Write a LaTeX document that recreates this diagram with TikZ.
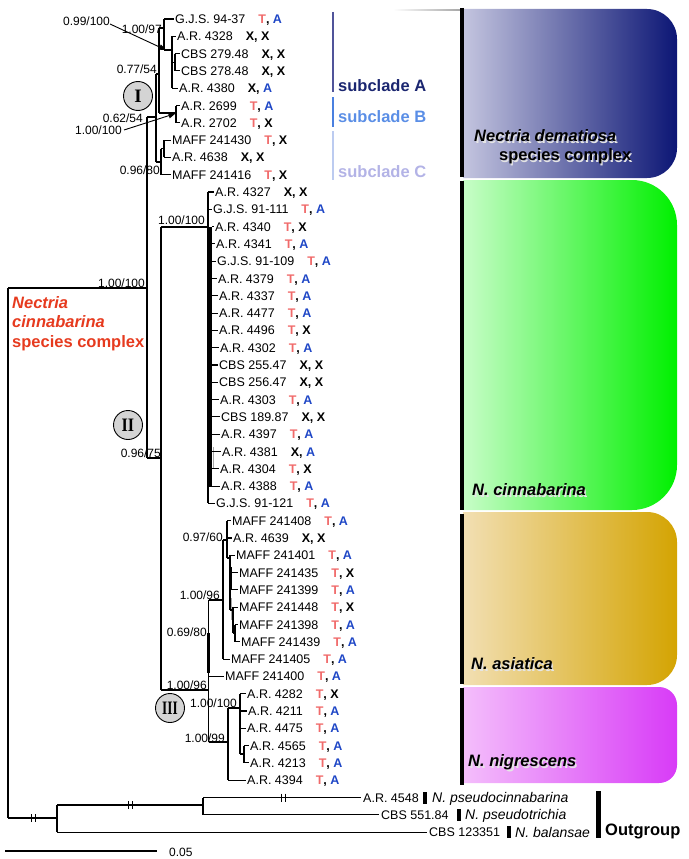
\documentclass[tikz,border=0pt]{standalone}
\usepackage{fontspec}
\setmainfont{Liberation Sans}
\newfontfamily\numfont{Liberation Serif}
\usepackage{graphicx}
\usetikzlibrary{arrows.meta}
\definecolor{tred}{HTML}{F06A6A}
\definecolor{ablue}{HTML}{1F47C6}
\definecolor{ncred}{HTML}{E63A1E}
\definecolor{subA}{HTML}{1B2670}
\definecolor{subAbar}{HTML}{50549A}
\definecolor{subB}{HTML}{5A8EE6}
\definecolor{subBbar}{HTML}{4A80E0}
\definecolor{subC}{HTML}{B3B3E6}
\definecolor{subCbar}{HTML}{BCCBF0}
\definecolor{demL}{HTML}{C4C5DF}
\definecolor{demR}{HTML}{0C1675}
\definecolor{cinL}{HTML}{C8FDC8}
\definecolor{cinR}{HTML}{00F000}
\definecolor{asiL}{HTML}{F2DFB3}
\definecolor{asiR}{HTML}{D4A402}
\definecolor{nigL}{HTML}{F4BEFB}
\definecolor{nigR}{HTML}{D83BF7}
\definecolor{circ}{HTML}{D4D4D4}
\newcommand{\annTA}{\textbf{\textcolor{tred}{T}, \textcolor{ablue}{A}}}
\newcommand{\annTX}{\textbf{\textcolor{tred}{T}, X}}
\newcommand{\annXX}{\textbf{X, X}}
\newcommand{\annXA}{\textbf{X, \textcolor{ablue}{A}}}
% name, branch x, label x, y, text, annotation
\newcommand{\taxtip}[6]{\node[taxon] (#1) at (#3,#4) {#5\hspace{13pt}#6};
  \draw[br] (#2,#4) -- ([xshift=-1.5pt]#1.west);}
\newcommand{\suplab}[4]{\node[supp] (#1) at (#2,#3) {#4};}
\newcommand{\shlab}[5]{\node[biglab,text=white!80!gray] at (#2+1.2,#3+1.2) {#5};
  \node[biglab,font=\fontsize{16.5}{19}\selectfont\bfseries#4] (#1) at (#2,#3) {#5};}
\begin{document}
\begin{tikzpicture}[x=1pt,y=-1pt,
  br/.style={line width=1.1pt, black},
  thickbr/.style={line width=2.6pt, black},
  taxon/.style={anchor=west, inner sep=0pt, font=\fontsize{12.5}{14}\selectfont, text height=9pt, text depth=0pt},
  supp/.style={anchor=east, inner sep=0pt, font=\fontsize{12}{14}\selectfont, text height=8.6pt, text depth=0pt},
  biglab/.style={anchor=west, inner sep=0pt, font=\fontsize{16.5}{19}\selectfont\bfseries, text height=11.8pt, text depth=0pt},
  spname/.style={anchor=west, inner sep=0pt, font=\fontsize{14}{16}\selectfont\itshape, text height=10pt, text depth=0pt},
  numcirc/.style={circle, draw=black, line width=0.9pt, fill=circ, minimum size=29pt, inner sep=0pt, font=\numfont\fontsize{19}{20}\selectfont\bfseries},
  brk/.style={line width=1.1pt, black}
]
\useasboundingbox (0,0) rectangle (688,859);

% ---------- coloured clade boxes ----------
\path[left color=demL, right color=demR] (463,9) -- (647,9) arc[start angle=90,end angle=0,radius=30pt] -- (677,148) arc[start angle=0,end angle=-90,radius=30pt] -- (463,178) -- cycle;
\path[left color=cinL, right color=cinR] (463,180) -- (632,180) arc[start angle=90,end angle=0,radius=45pt] -- (677,465) arc[start angle=0,end angle=-90,radius=45pt] -- (463,510) -- cycle;
\path[left color=asiL, right color=asiR] (463,512) -- (647,512) arc[start angle=90,end angle=0,radius=30pt] -- (677,655) arc[start angle=0,end angle=-90,radius=30pt] -- (463,685) -- cycle;
\path[left color=nigL, right color=nigR] (463,687) -- (659,687) arc[start angle=90,end angle=0,radius=18pt] -- (677,765) arc[start angle=0,end angle=-90,radius=18pt] -- (463,783) -- cycle;
\path[left color=white, right color=black!35] (393,9.3) rectangle (461,10.8);

% clade bars
\draw[line width=4pt] (462,8) -- (462,177);
\draw[line width=4pt] (462,181) -- (462,510);
\draw[line width=4pt] (462,514) -- (462,684);
\draw[line width=4pt] (462,688) -- (462,785);

% clade labels
\shlab{ndem}{474}{136}{\itshape}{Nectria dematiosa}
\shlab{ndemsc}{499}{155}{}{species complex}
\shlab{ncin}{472}{490}{\itshape}{N. cinnabarina}
\shlab{nasi}{471}{664}{\itshape}{N. asiatica}
\shlab{nnig}{468}{761}{\itshape}{N. nigrescens}

% subclades
\draw[subAbar, line width=2pt] (333,12) -- (333,92);
\draw[subBbar, line width=2pt] (333,97) -- (333,127);
\draw[subCbar, line width=2pt] (333,131) -- (333,180);
\node[biglab, text=subA] (sA) at (338,86) {subclade A};
\node[biglab, text=subB] (sB) at (338,117) {subclade B};
\node[biglab, text=subC] (sC) at (338,172) {subclade C};

% species complex label
\node[biglab, text=ncred, font=\fontsize{16.5}{19}\selectfont\bfseries\itshape] (nc1) at (12,303) {Nectria};
\node[biglab, text=ncred, font=\fontsize{16.5}{19}\selectfont\bfseries\itshape] (nc2) at (12,322) {cinnabarina};
\node[biglab, text=ncred] (nc3) at (12,342) {species complex};

% ---------- backbone ----------
\draw[br] (8,288) -- (8,818);
\draw[br] (8,288) -- (147,288);
\draw[br] (147,117) -- (147,458);
\draw[br] (147,458) -- (161,458);
\draw[br] (161,227) -- (161,690);

% ---------- clade I ----------
\draw[br] (147,117) -- (156,117);
\draw[br] (156,74) -- (156,162);
\draw[br] (156,74) -- (159,74);
\draw[br] (159,28) -- (159,113);
\draw[br] (159,28) -- (164,28);
\draw[br] (164,19) -- (164,50);
\draw[br] (164,50) -- (172,50);
\draw[br] (172,36.3) -- (172,88.2);
\draw[br] (172,62.3) -- (174.5,62.3);
\draw[line width=2pt] (174.5,53.6) -- (174.5,70.9);
\draw[br] (159,113) -- (176,113);
\draw[br] (176,105.5) -- (176,122.8);
\draw[br] (156,162) -- (161,162);
\draw[br] (161,148.7) -- (161,174.7);
\draw[br] (161,148.7) -- (164,148.7);
\draw[line width=2pt] (164,140.1) -- (164,157.4);

\taxtip{t1}{164}{175}{19.0}{G.J.S. 94-37}{\annTA}
\taxtip{t2}{172}{177}{36.3}{A.R. 4328}{\annXX}
\taxtip{t3}{174.5}{181}{53.6}{CBS 279.48}{\annXX}
\taxtip{t4}{174.5}{181}{70.9}{CBS 278.48}{\annXX}
\taxtip{t5}{172}{179}{88.2}{A.R. 4380}{\annXA}
\taxtip{t6}{176}{181}{105.5}{A.R. 2699}{\annTA}
\taxtip{t7}{176}{181}{122.8}{A.R. 2702}{\annTX}
\taxtip{t8}{164}{172}{140.1}{MAFF 241430}{\annTX}
\taxtip{t9}{164}{172}{157.4}{A.R. 4638}{\annXX}
\taxtip{t10}{161}{172}{174.7}{MAFF 241416}{\annTX}

% ---------- clade II ----------
\draw[br] (161,227) -- (208,227);
\draw[br] (208,192) -- (208,503.4);
\draw[line width=3pt] (210.5,227) -- (210.5,487);
\draw[gray!70, line width=1pt] (213.5,447) -- (213.5,468);
\taxtip{t11}{208}{215}{192.0}{A.R. 4327}{\annXX}
\taxtip{t12}{208}{213}{209.3}{G.J.S. 91-111}{\annTA}
\taxtip{t13}{212}{215}{226.6}{A.R. 4340}{\annTX}
\taxtip{t14}{212}{216}{243.9}{A.R. 4341}{\annTA}
\taxtip{t15}{212}{217}{261.2}{G.J.S. 91-109}{\annTA}
\taxtip{t16}{212}{218}{278.5}{A.R. 4379}{\annTA}
\taxtip{t17}{212}{219}{295.8}{A.R. 4337}{\annTA}
\taxtip{t18}{212}{219}{313.1}{A.R. 4477}{\annTA}
\taxtip{t19}{212}{219}{330.4}{A.R. 4496}{\annTX}
\taxtip{t20}{212}{220}{347.7}{A.R. 4302}{\annTA}
\taxtip{t21}{212}{219}{365.0}{CBS 255.47}{\annXX}
\taxtip{t22}{212}{219}{382.3}{CBS 256.47}{\annXX}
\taxtip{t23}{212}{220}{399.6}{A.R. 4303}{\annTA}
\taxtip{t24}{212}{221}{416.9}{CBS 189.87}{\annXX}
\taxtip{t25}{212}{221}{434.2}{A.R. 4397}{\annTA}
\taxtip{t26}{212}{222}{451.5}{A.R. 4381}{\annXA}
\taxtip{t27}{212}{220}{468.8}{A.R. 4304}{\annTX}
\taxtip{t28}{212}{221}{486.1}{A.R. 4388}{\annTA}
\taxtip{t29}{208}{216}{503.4}{G.J.S. 91-121}{\annTA}

% ---------- clade III ----------
\draw[br] (161,690) -- (208.5,690);
\draw[br] (208.5,600) -- (208.5,742);
\draw[thickbr] (208.5,633) -- (208.5,673);
\draw[br] (208.5,600) -- (223,600);
\draw[br] (223,540) -- (223,659.1);
\draw[br] (223,540) -- (227,540);
\draw[br] (227,520.7) -- (227,558);
\draw[br] (227,558) -- (230,558);
\draw[br] (230,555.3) -- (230,610);
\draw[thickbr] (231,567) -- (231,590);
\draw[gray!70, line width=1pt] (231.5,598) -- (231.5,620);
\draw[br] (230,610) -- (233,610);
\draw[br] (233,607.2) -- (233,633);
\draw[br] (233,633) -- (235,633);
\draw[br] (235,624.5) -- (235,641.8);
\taxtip{t30}{227}{232}{520.7}{MAFF 241408}{\annTA}
\taxtip{t31}{227}{233}{538.0}{A.R. 4639}{\annXX}
\taxtip{t32}{230}{236}{555.3}{MAFF 241401}{\annTA}
\taxtip{t33}{232}{239}{572.6}{MAFF 241435}{\annTX}
\taxtip{t34}{232}{239}{589.9}{MAFF 241399}{\annTA}
\taxtip{t35}{233}{239}{607.2}{MAFF 241448}{\annTX}
\taxtip{t36}{235}{239}{624.5}{MAFF 241398}{\annTA}
\taxtip{t37}{235}{241}{641.8}{MAFF 241439}{\annTA}
\taxtip{t38}{223}{231}{659.1}{MAFF 241405}{\annTA}
\taxtip{t39}{208.5}{225}{676.4}{MAFF 241400}{\annTA}

\draw[br] (208.5,742) -- (228,742);
\draw[br] (228,708) -- (228,780.2);
\draw[br] (228,708) -- (240,708);
\draw[br] (240,693.7) -- (240,754);
\draw[thickbr] (240,708) -- (240,726);
\draw[br] (240,754) -- (244,754);
\draw[br] (244,745.6) -- (244,762.9);
\taxtip{t40}{240}{247}{693.7}{A.R. 4282}{\annTX}
\taxtip{t41}{240}{248}{711.0}{A.R. 4211}{\annTA}
\taxtip{t42}{240}{247}{728.3}{A.R. 4475}{\annTA}
\taxtip{t43}{244}{250}{745.6}{A.R. 4565}{\annTA}
\taxtip{t44}{244}{250}{762.9}{A.R. 4213}{\annTA}
\taxtip{t45}{228}{247}{780.2}{A.R. 4394}{\annTA}

% ---------- outgroup ----------
\draw[br] (8,818) -- (57,818);
\draw[brk] (31.5,814) -- (31.5,822);
\draw[brk] (35.5,814) -- (35.5,822);
\draw[br] (57,805) -- (57,832.1);
\draw[br] (57,805) -- (203,805);
\draw[brk] (128.5,801) -- (128.5,809);
\draw[brk] (132.5,801) -- (132.5,809);
\draw[br] (203,797.5) -- (203,814.8);
\node[taxon] (t46) at (363,797.5) {A.R. 4548};
\node[taxon] (t47) at (381,814.8) {CBS 551.84};
\node[taxon] (t48) at (429,832.1) {CBS 123351};
\draw[br] (203,797.5) -- ([xshift=-2pt]t46.west);
\draw[brk] (281.5,793.5) -- (281.5,801.5);
\draw[brk] (285.5,793.5) -- (285.5,801.5);
\draw[br] (203,814.8) -- ([xshift=-2pt]t47.west);
\draw[br] (57,832.1) -- ([xshift=-2pt]t48.west);
\fill (423,791.5) rectangle (427,803.5);
\fill (457,808.8) rectangle (461,820.8);
\fill (507,826.1) rectangle (511,838.1);
\node[spname] (sp46) at (432,797.5) {N. pseudocinnabarina};
\node[spname] (sp47) at (465,814.8) {N. pseudotrichia};
\node[spname] (sp48) at (515,832.1) {N. balansae};
\fill (595.5,791) rectangle (600.5,838);
\node[biglab] (og) at (605,830) {Outgroup};

% ---------- support values ----------
\suplab{s1}{110}{21}{0.99/100}
\suplab{s2}{162}{29}{1.00/97}
\suplab{s3}{157}{69}{0.77/54}
\suplab{s4}{143}{118}{0.62/54}
\suplab{s5}{122}{130}{1.00/100}
\suplab{s6}{160}{170}{0.96/80}
\suplab{s7}{145}{283}{1.00/100}
\suplab{s8}{205}{220}{1.00/100}
\suplab{s9}{161}{453}{0.96/75}
\suplab{s10}{223}{537}{0.97/60}
\suplab{s11}{220}{595}{1.00/96}
\suplab{s12}{207}{632}{0.69/80}
\suplab{s13}{207}{685}{1.00/96}
\suplab{s14}{237}{703}{1.00/100}
\suplab{s15}{225}{738}{1.00/99}
\coordinate (g) at (166,50);
\coordinate (j) at (175.5,113.5);
\draw[line width=0.9pt, -{Triangle[length=7pt,width=5.5pt]}] ([yshift=-3pt]s1.east) -- (g);
\draw[line width=0.9pt, -{Triangle[length=7pt,width=5.5pt]}] ([xshift=2pt]s5.east) -- (j);

% ---------- numbered circles ----------
\node[numcirc] (cI) at (138,96) {I};
\node[numcirc] (cII) at (128,425) {\scalebox{0.85}[1]{II}};
\node[numcirc] (cIII) at (170,708) {\scalebox{0.7}[1]{III}};

% ---------- scale bar ----------
\draw[line width=1.5pt] (5,851) -- (157,851);
\node[taxon, font=\fontsize{12}{14}\selectfont] (sc) at (169,852) {0.05};
\end{tikzpicture}
\end{document}
